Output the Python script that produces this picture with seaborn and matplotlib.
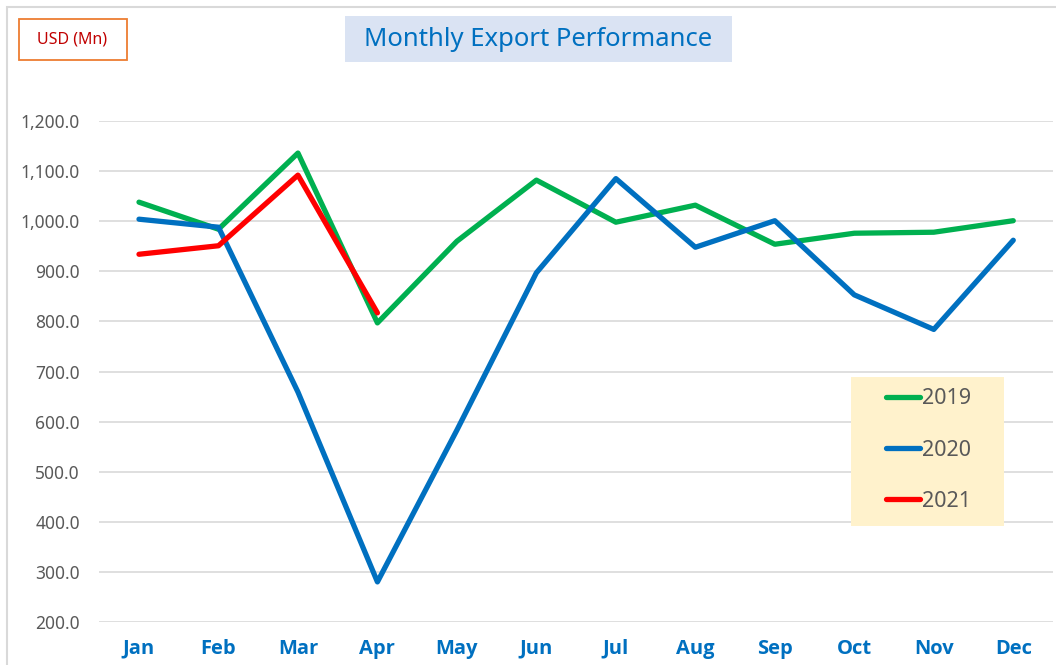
import matplotlib
matplotlib.use("Agg")
import matplotlib.pyplot as plt
import seaborn as sns
import pandas as pd
from matplotlib.patches import Rectangle

months = ["Jan", "Feb", "Mar", "Apr", "May", "Jun", "Jul", "Aug", "Sep", "Oct", "Nov", "Dec"]
exports_2019 = [1038, 984, 1136, 797, 960, 1082, 998, 1032, 954, 976, 978, 1001]
exports_2020 = [1004, 988, 659, 280, 583, 897, 1085, 948, 1001, 853, 784, 962]
exports_2021 = [934, 951, 1092, 817]
y_ticks = [200, 300, 400, 500, 600, 700, 800, 900, 1000, 1100, 1200]

rows = []
for yr, vals in (("2019", exports_2019), ("2020", exports_2020), ("2021", exports_2021)):
    for i, v in enumerate(vals):
        rows.append({"Month": months[i], "idx": i, "Year": yr, "Value": v})
df = pd.DataFrame(rows)

sns.set_theme(style="white")
plt.rcParams['font.family'] = ['Noto Sans', 'DejaVu Sans']

W, H = 1056, 665
fig = plt.figure(figsize=(W / 100, H / 100), dpi=100)
ax = fig.add_axes([99.25 / W, 1 - 622 / H, (1053 - 99.25) / W, (622 - 121) / H])


def px(x, y):
    return (x / W, 1 - y / H)


palette = {"2019": "#00B050", "2020": "#0070C0", "2021": "#FF0000"}
sns.lineplot(data=df, x="idx", y="Value", hue="Year", palette=palette, linewidth=3.8,
             ax=ax, legend=False)
for l in ax.lines:
    l.set_solid_capstyle("round")

ax.set_xlim(-0.5, 11.5)
ax.set_ylim(200, 1200)
ax.set_yticks(y_ticks)
ax.set_yticklabels([f"{v:,.1f}" for v in y_ticks], color="#595959", fontsize=12.5)
ax.set_xticks(range(12))
ax.set_xticklabels(months, color="#0070C0", fontsize=14.5, fontweight="bold",
                   family=["Open Sans", "DejaVu Sans"])
ax.tick_params(axis="both", length=0)
ax.tick_params(axis="y", pad=14)
ax.tick_params(axis="x", pad=12)
ax.set_xlabel("")
ax.set_ylabel("")
ax.grid(axis="y", color="#D9D9D9", linewidth=1.2)
ax.set_axisbelow(True)
for s in ax.spines.values():
    s.set_visible(False)

# Legend background box
x0, y1 = px(851, 526)
fig.patches.append(Rectangle((x0, y1), 153 / W, 149 / H, transform=fig.transFigure,
                             facecolor="#FFF2CC", edgecolor="none", zorder=3))

leg_handles = [plt.Line2D([], [], color=palette[y], linewidth=3.8, solid_capstyle="round")
               for y in ["2019", "2020", "2021"]]
leg = fig.legend(leg_handles, ["2019", "2020", "2021"], loc="center left",
                 bbox_to_anchor=px(886, 450), bbox_transform=fig.transFigure,
                 frameon=False, fontsize=15.5, labelspacing=1.4, handlelength=1.6,
                 handletextpad=0.05, borderpad=0, borderaxespad=0)
leg.set_zorder(5)
for t in leg.get_texts():
    t.set_color("#595959")

# Figure border
fig.patches.append(Rectangle((7 / W, -0.01), 1.02, 1 - 7 / H + 0.01, transform=fig.transFigure,
                             fill=False, edgecolor="#D9D9D9", linewidth=1.5))

# Title with background
bx, by = px(345, 62)
fig.patches.append(Rectangle((bx, by), (732 - 345) / W, 46 / H, transform=fig.transFigure,
                             facecolor="#DAE3F3", edgecolor="none"))
fig.text(*px(538, 40), "Monthly Export Performance", ha="center", va="center",
         fontsize=18.5, color="#0070C0", fontweight="medium")

# Units box
ux, uy = px(19, 60)
fig.patches.append(Rectangle((ux, uy), 108 / W, 41 / H, transform=fig.transFigure,
                             facecolor="white", edgecolor="#ED7D31", linewidth=1.3))
fig.text(*px(72, 40), "USD (Mn)", ha="center", va="center", fontsize=11.5, color="#C00000")

fig.savefig("out.png", dpi=100)
